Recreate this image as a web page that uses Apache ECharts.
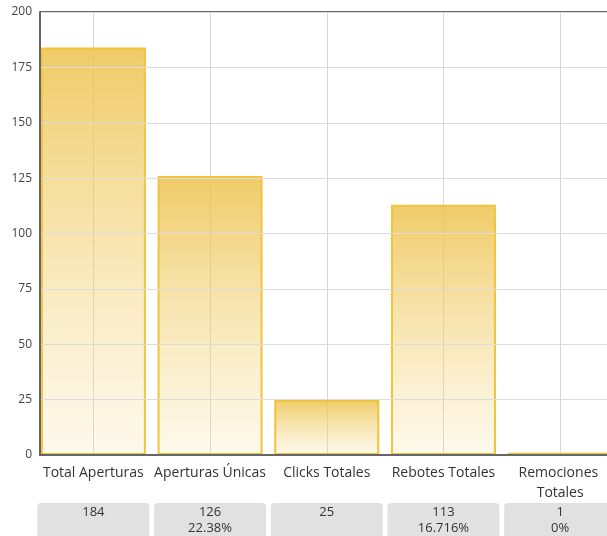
<!DOCTYPE html>
<html><head><meta charset="utf-8">
<script src="https://cdn.jsdelivr.net/npm/echarts@6/dist/echarts.min.js"></script>
<style>html,body{margin:0;padding:0;background:#fff}#c{width:607px;height:536px}</style>
</head><body><div id="c"></div>
<script>
const categories = ['Total Aperturas', 'Aperturas Únicas', 'Clicks Totales', 'Rebotes Totales', 'Remociones Totales'];
const values = [184, 126, 25, 113, 1];
const percents = ['', '22.38%', '', '16.716%', '0%'];
const yTicks = [0, 25, 50, 75, 100, 125, 150, 175, 200];

const font = '"Open Sans", "Noto Sans", sans-serif';
const chart = echarts.init(document.getElementById('c'), null, {renderer: 'canvas'});
const gridTop = 12, gridH = 443;
const yMin = yTicks[0], yMax = yTicks[yTicks.length - 1];
chart.setOption({
  animation: false,
  grid: [
    {left: 35, top: gridTop, width: 583.5, height: gridH, outerBoundsMode: 'none', containLabel: false},
    {left: 40, top: gridTop, width: 600, height: gridH, outerBoundsMode: 'none', containLabel: false}
  ],
  xAxis: [
    {gridIndex: 0, type: 'category', data: categories, boundaryGap: true,
     axisLine: {show: false}, axisTick: {show: false},
     splitLine: {show: true, alignWithLabel: true, lineStyle: {color: '#d8d8d8', width: 1}},
     axisLabel: {color: '#333', fontFamily: font, fontSize: 14, margin: 8, width: 116, overflow: 'break', lineHeight: 20, interval: 0}},
    {gridIndex: 0, type: 'category', data: categories, position: 'bottom', offset: 48,
     axisLine: {show: false}, axisTick: {show: false}, splitLine: {show: false},
     axisLabel: {interval: 0, margin: 0, verticalAlign: 'top', align: 'center',
       formatter: (v, i) => percents[i] ? values[i] + '\n' + percents[i] : String(values[i]),
       color: '#333', fontFamily: font, fontSize: 13, lineHeight: 16,
       backgroundColor: '#e1e1e1', borderRadius: 4, width: 112, height: 40, padding: [1, 0, 0, 0]}},
    {gridIndex: 1, type: 'category', data: categories, position: 'bottom', z: 10,
     axisLine: {show: true, onZero: false, lineStyle: {color: '#666', width: 2}}, axisTick: {show: false},
     axisLabel: {show: false}, splitLine: {show: false}}
  ],
  yAxis: [
    {gridIndex: 0, type: 'value', position: 'left', min: yMin, max: yMax, interval: 25, show: false},
    {gridIndex: 1, type: 'value', position: 'left', min: yMin, max: yMax, interval: 25, z: 10,
     axisLine: {show: true, onZero: false, lineStyle: {color: '#666', width: 2}}, axisTick: {show: false},
     splitLine: {show: true, lineStyle: {color: '#dcdcdc', width: 1}},
     axisLabel: {color: '#444', fontFamily: font, fontSize: 12, margin: 8}}
  ],
  series: [{
    type: 'bar', xAxisIndex: 0, yAxisIndex: 0, data: values, barWidth: 105, z: 2,
    itemStyle: {
      color: new echarts.graphic.LinearGradient(0, 0, 0, 1, [
        {offset: 0, color: 'rgba(236,192,70,0.82)'},
        {offset: 1, color: 'rgba(245,215,130,0.15)'}
      ]),
      borderColor: 'rgba(240,196,60,1)', borderWidth: 2
    }
  }, {
    type: 'line', xAxisIndex: 2, yAxisIndex: 1, data: [], z: 20, silent: true,
    markLine: {
      silent: true, symbol: 'none', animation: false,
      label: {show: false},
      lineStyle: {color: '#666', width: 2, type: 'solid'},
      data: [{yAxis: yMax}, {yAxis: yMin}]
    }
  }]
});
</script></body></html>
